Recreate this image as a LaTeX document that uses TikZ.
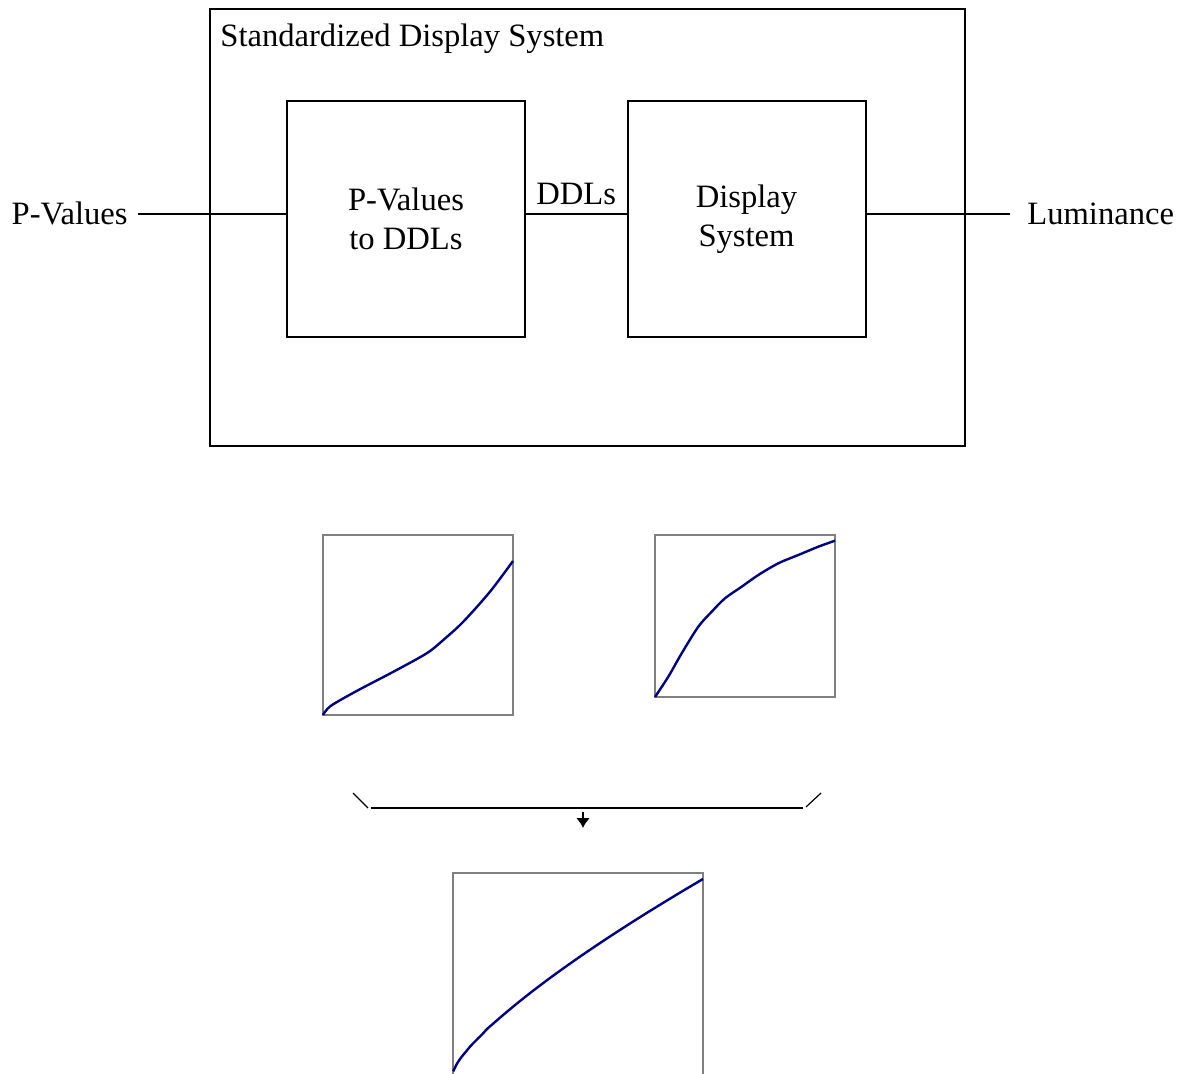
\documentclass[tikz,border=0pt]{standalone}
\usepackage{fontspec}
\setmainfont{Liberation Serif}
\usepackage{xcolor}
\definecolor{navy}{RGB}{0,0,128}
\usetikzlibrary{arrows.meta,positioning}

\begin{document}
\begin{tikzpicture}[x=0.5pt,y=-0.5pt,>={Latex[length=5pt,width=7pt]},
	font=\fontsize{16.3}{19.5}\selectfont,
	block/.style = {draw,line width=1pt,inner sep=0pt,minimum width=119pt,minimum height=118pt,align=center},
	lbl/.style = {inner sep=0pt},
	frame/.style = {draw=gray,line width=1pt},
	curve/.style = {draw=navy,line width=1.2pt,smooth}
	]
	\useasboundingbox (0,0) rectangle (1183,1074);
	%SISTEMA
	\node[block,minimum width=377.5pt,minimum height=218.5pt] (sds) at (587.5,227.5) {};
	\node[lbl,anchor=base west] (title) at (220,47) {Standardized Display System};
	\node[block] (conv) at (406,219) {P-Values\\to DDLs};
	\node[block] (disp) at (746.5,219) {Display\\System};
	%INGRESSO E USCITA
	\node[lbl,anchor=base east] (pval) at (128,225) {P-Values};
	\node[lbl,anchor=base west] (lum) at (1027,225) {Luminance};
	\draw[line width=1pt] ([xshift=5pt]pval.east) -- (pval.east -| conv.west);
	\draw[line width=1pt] (conv.east |- pval.east) -- (disp.west |- pval.east) node [lbl, pos=0.5, above=4pt] {DDLs};
	\draw[line width=1pt] (disp.east |- lum.west) -- ([xshift=-8.5pt]lum.west);
	%CURVE
	\draw[frame] (323,535) rectangle (513,715);
	\draw[curve] plot coordinates {(323,715) (330.6,706) (357.2,690.7) (393.3,671.8) (426.7,653.3) (443.3,640) (463.3,621.7) (490,591.7) (513,561)};
	\draw[frame] (655,535) rectangle (835,697);
	\draw[curve] plot coordinates {(655,697) (668.3,676.7) (681.7,653.3) (698.3,626.7) (711.7,611.7) (725,598.3) (741.7,586.7) (758.3,575) (778.3,563.3) (798.3,555) (818.3,546.7) (835,540.7)};
	%PARENTESI
	\draw[line width=0.6pt] (353,793) -- (368,808);
	\draw[line width=1pt] (371,808) -- (803,808);
	\draw[line width=0.6pt] (806,807) -- (821,793);
	\coordinate (brk) at (583,812);
	\coordinate (tip) at (583,828);
	\draw[->,line width=1pt] (brk) -- (tip);
	%RISULTATO
	\draw[frame] (453,873) rectangle (703,1100);
	\draw[curve] plot[domain=0.0005:1,samples=60] ({453+250*\x},{1072-193*(\x)^0.76});
\end{tikzpicture}
\end{document}
